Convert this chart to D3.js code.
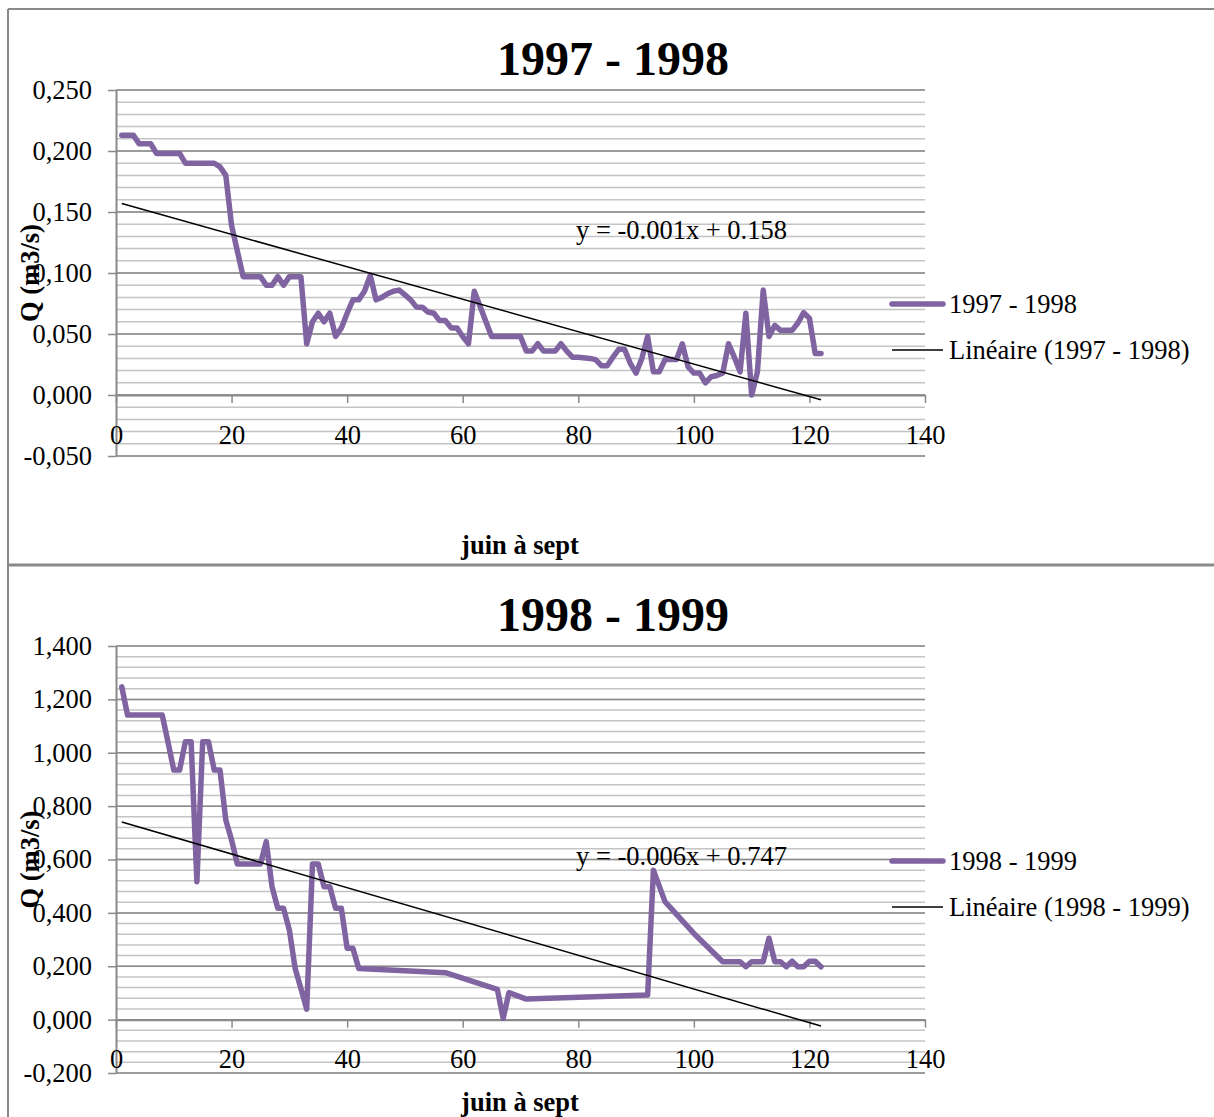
<!DOCTYPE html>
<html>
<head>
<meta charset="utf-8">
<script src="https://cdn.jsdelivr.net/npm/d3@7"></script>
<style>
body { margin: 0; background: #fff; }
text { font-family: "Liberation Serif", "Times New Roman", serif; fill: #000; }
</style>
</head>
<body>
<script>
// debit journalier juin -> sept (jour, Q en m3/s)
var days97 = [1,3,4,6,7,11,12,17,18,19,20,21,22,25,26,27,28,29,30,32,33,34,35,36,37,38,39,40,41,42,43,44,45,46,47,48,49,50,51,52,53,54,55,56,57,58,59,60,61,62,65,70,71,72,73,74,76,77,78,79,80,82,83,84,85,86,87,88,89,90,91,92,93,94,95,97,98,99,100,101,102,103,104,105,106,107,108,109,110,111,112,113,114,115,117,118,119,120,121,122];
var q97 = [0.213,0.213,0.206,0.206,0.198,0.198,0.190,0.190,0.187,0.180,0.139,0.118,0.097,0.097,0.090,0.090,0.097,0.090,0.097,0.097,0.042,0.060,0.067,0.060,0.067,0.048,0.055,0.067,0.078,0.078,0.085,0.098,0.078,0.080,0.083,0.085,0.086,0.082,0.078,0.072,0.072,0.068,0.067,0.061,0.061,0.055,0.055,0.048,0.042,0.085,0.048,0.048,0.036,0.036,0.042,0.036,0.036,0.042,0.036,0.031,0.031,0.030,0.029,0.024,0.024,0.031,0.0375,0.0375,0.026,0.018,0.030,0.048,0.019,0.019,0.029,0.029,0.042,0.023,0.018,0.018,0.010,0.015,0.016,0.018,0.042,0.031,0.019,0.067,0.000,0.019,0.086,0.048,0.057,0.053,0.053,0.059,0.0675,0.063,0.034,0.034];

var days98 = [1,2,8,9,10,11,12,13,14,15,16,17,18,19,20,21,25,26,27,28,29,30,31,32,33,34,35,36,37,38,39,40,41,42,57,66,67,68,71,92,93,95,100,105,108,109,110,112,113,114,115,116,117,118,119,120,121,122];
var q98 = [1.247,1.141,1.141,1.040,0.935,0.935,1.041,1.041,0.517,1.041,1.041,0.935,0.935,0.748,0.673,0.583,0.583,0.667,0.498,0.417,0.417,0.336,0.192,0.117,0.039,0.583,0.583,0.498,0.498,0.417,0.417,0.267,0.267,0.192,0.176,0.113,0.005,0.101,0.077,0.092,0.560,0.442,0.323,0.217,0.217,0.198,0.217,0.217,0.305,0.217,0.217,0.198,0.219,0.198,0.198,0.219,0.219,0.198];

// droites de tendance [pente, ordonnee]
var trend97 = [-0.00133, 0.1583];
var trend98 = [-0.00632, 0.747];
var trendLabels = ["y = -0.001x + 0.158", "y = -0.006x + 0.747"];

var titles = ["1997 - 1998", "1998 - 1999"];
var xTicks = [0, 20, 40, 60, 80, 100, 120, 140];
var yTicks97 = [-0.05, 0, 0.05, 0.10, 0.15, 0.20, 0.25];
var yTicks98 = [-0.2, 0, 0.2, 0.4, 0.6, 0.8, 1.0, 1.2, 1.4];

var W = 1214, H = 1117;
var purple = "#8064a2", gridMajor = "#8a8a8a", gridMinor = "#c4c4c4";
var fs = "26.5px";

var fr = d3.formatLocale({decimal: ",", thousands: " ", grouping: [3], currency: ["", "€"], minus: "-"});
var fmt = fr.format(".3f");

var svg = d3.select("body").append("svg")
    .attr("width", W)
    .attr("height", H);

// cadres des deux graphiques
svg.append("line").attr("x1", 8).attr("x2", W).attr("y1", 9).attr("y2", 9)
    .attr("stroke", "#8a8a8a").attr("stroke-width", 2);
svg.append("line").attr("x1", 8).attr("x2", W).attr("y1", 565).attr("y2", 565)
    .attr("stroke", "#8a8a8a").attr("stroke-width", 3);
svg.append("line").attr("x1", 8).attr("x2", 8).attr("y1", 9).attr("y2", H)
    .attr("stroke", "#8a8a8a").attr("stroke-width", 2);

function drawChart(o) {
    var x = d3.scaleLinear().domain([0, 140]).range([116, 925]);
    var y = d3.scaleLinear().domain([o.yTicks[0], o.yTicks[o.yTicks.length - 1]]).range([o.bottom, o.top]);
    var g = svg.append("g");

    // grille secondaire puis principale
    g.selectAll(".minor")
        .data(d3.range(Math.round((y.domain()[1] - y.domain()[0]) / o.minor) + 1).map(function(i) { return y.domain()[0] + i * o.minor; }))
        .enter().append("line")
        .attr("x1", 116).attr("x2", 925)
        .attr("y1", function(d) { return y(d); })
        .attr("y2", function(d) { return y(d); })
        .attr("stroke", gridMinor).attr("stroke-width", 1.5);
    g.selectAll(".major")
        .data(o.yTicks)
        .enter().append("line")
        .attr("x1", 116).attr("x2", 925)
        .attr("y1", function(d) { return y(d); })
        .attr("y2", function(d) { return y(d); })
        .attr("stroke", gridMajor).attr("stroke-width", 1.5);

    var yAxis = g.append("g")
        .attr("transform", "translate(116,0)")
        .call(d3.axisLeft(y).tickValues(o.yTicks).tickFormat(fmt).tickSize(8).tickSizeOuter(0).tickPadding(16));
    var xAxis = g.append("g")
        .attr("transform", "translate(0," + y(0) + ")")
        .call(d3.axisBottom(x).tickValues(xTicks).tickSize(8).tickSizeOuter(0).tickPadding(22));
    [yAxis, xAxis].forEach(function(a) {
        a.select(".domain").attr("stroke", gridMajor).attr("stroke-width", 2);
        a.selectAll(".tick line").attr("stroke", gridMajor).attr("stroke-width", 1.5);
        a.selectAll("text").style("font-family", "'Liberation Serif', serif").style("font-size", fs).attr("fill", "#000");
    });

    // serie
    var pts = o.days.map(function(d, i) { return [d, o.q[i]]; });
    g.append("path")
        .datum(pts)
        .attr("fill", "none")
        .attr("stroke", purple)
        .attr("stroke-width", 5.5)
        .attr("stroke-linejoin", "round")
        .attr("stroke-linecap", "round")
        .attr("d", d3.line().x(function(d) { return x(d[0]); }).y(function(d) { return y(d[1]); }));

    // tendance lineaire
    var x0 = o.days[0], x1 = o.days[o.days.length - 1];
    g.append("line")
        .attr("x1", x(x0)).attr("y1", y(o.trend[0] * x0 + o.trend[1]))
        .attr("x2", x(x1)).attr("y2", y(o.trend[0] * x1 + o.trend[1]))
        .attr("stroke", "#000").attr("stroke-width", 1.5);

    g.append("text")
        .attr("x", 576).attr("y", o.eqY)
        .style("font-size", fs)
        .text(o.eq);

    g.append("text")
        .attr("x", 613).attr("y", o.titleY)
        .attr("text-anchor", "middle")
        .style("font-size", "48px").style("font-weight", "bold")
        .text(o.title);

    g.append("text")
        .attr("transform", "translate(30," + ((o.top + o.bottom) / 2) + ") rotate(-90)")
        .attr("text-anchor", "middle")
        .attr("dy", "0.35em")
        .style("font-size", "26.5px").style("font-weight", "bold")
        .text("Q (m3/s)");

    g.append("text")
        .attr("x", 520).attr("y", o.xTitleY)
        .attr("text-anchor", "middle")
        .style("font-size", "26.5px").style("font-weight", "bold")
        .text("juin à sept");

    // legende
    g.append("line").attr("x1", 892).attr("x2", 943).attr("y1", o.legY).attr("y2", o.legY)
        .attr("stroke", purple).attr("stroke-width", 5.5).attr("stroke-linecap", "round");
    g.append("text").attr("x", 949).attr("y", o.legY).attr("dy", "0.35em")
        .style("font-size", fs).text(o.title);
    g.append("line").attr("x1", 892).attr("x2", 943).attr("y1", o.legY + 46).attr("y2", o.legY + 46)
        .attr("stroke", "#000").attr("stroke-width", 1.5);
    g.append("text").attr("x", 949).attr("y", o.legY + 46).attr("dy", "0.35em")
        .style("font-size", fs).text("Linéaire (" + o.title + ")");
}

drawChart({days: days97, q: q97, trend: trend97, eq: trendLabels[0], title: titles[0],
    yTicks: yTicks97, minor: 0.01, top: 90, bottom: 456,
    titleY: 75, eqY: 239, xTitleY: 554, legY: 304});
drawChart({days: days98, q: q98, trend: trend98, eq: trendLabels[1], title: titles[1],
    yTicks: yTicks98, minor: 0.04, top: 646, bottom: 1073,
    titleY: 631, eqY: 865, xTitleY: 1111, legY: 861});
</script>
</body>
</html>
